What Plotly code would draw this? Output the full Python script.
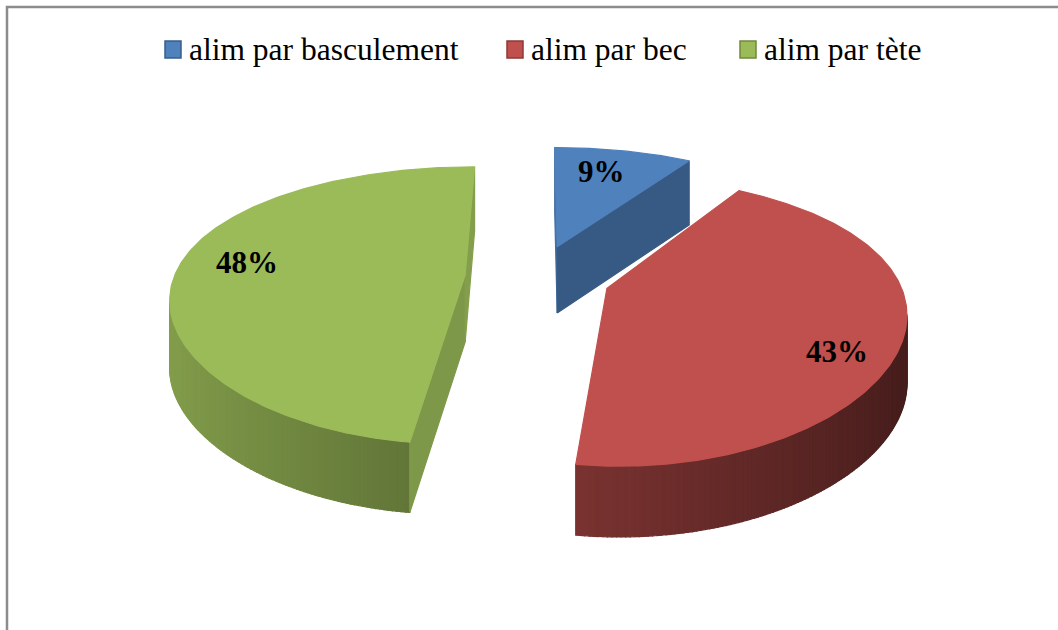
import numpy as np
import plotly.graph_objects as go

# ---- data ----
labels = ["alim par basculement", "alim par bec", "alim par tète"]
values = [9, 43, 48]
pct_text = ["9%", "43%", "48%"]
colors = ["#4f81bd", "#c0504d", "#9bbb59"]
edge_colors = ["#385d8a", "#8c3836", "#71893f"]

# ---- view / geometry settings (pixel space of the 1058x630 page) ----
W, H = 1058, 630
CX, CY = 537.6, 277.0      # centre of the pie on screen
RX, RY = 291.0, 132.8      # projected radii of the top face
PERSP_X, PERSP_Y = 0.15, 0.22   # foreshortening toward the back
DEPTH = 67.0               # projected thickness of the disc
EXPLODE = 0.25             # explosion distance (fraction of radius)
STEP = 0.75                # angular resolution of the rim, degrees


def project(X, Y, Z):
    gx = 1.0 / (1.0 + PERSP_X * Y)
    gy = 1.0 / (1.0 + PERSP_Y * Y)
    return CX + RX * X * gx, CY - RY * Y * gy - DEPTH * Z * gy ** 0.2


def newell(pts):
    n = np.zeros(3)
    for i in range(len(pts)):
        a, b = np.array(pts[i]), np.array(pts[(i + 1) % len(pts)])
        n += np.array([(a[1] - b[1]) * (a[2] + b[2]),
                       (a[2] - b[2]) * (a[0] + b[0]),
                       (a[0] - b[0]) * (a[1] + b[1])])
    return n


def shade(hex_color, f):
    h = hex_color.lstrip("#")
    r, g, b = (int(h[i:i + 2], 16) for i in (0, 2, 4))
    r, g, b = (int(max(0, min(255, round(c * f)))) for c in (r, g, b))
    return f"rgb({r},{g},{b})"


def face_trace(pts3, outward, color):
    """Return a filled polygon trace if the face points toward the viewer."""
    if np.dot(newell(pts3), outward) < 0:
        pts3 = pts3[::-1]
    xs, ys = zip(*[project(*p) for p in pts3])
    area = 0.5 * sum(xs[i] * ys[(i + 1) % len(xs)] - xs[(i + 1) % len(xs)] * ys[i]
                     for i in range(len(xs)))
    if area >= 0:          # back-facing (screen y points down)
        return None
    return go.Scatter(x=list(xs) + [xs[0]], y=list(ys) + [ys[0]], mode="lines",
                      fill="toself", fillcolor=color,
                      line=dict(color=color, width=1.2),
                      hoverinfo="skip", showlegend=False)


fracs = np.array(values, dtype=float) / sum(values)
ends = np.cumsum(fracs) * 360.0
starts = ends - fracs * 360.0

traces = []
label_pos = []
for i in range(len(values)):
    ts, te = starts[i], ends[i]
    tm = np.radians((ts + te) / 2)
    ox, oy = EXPLODE * np.sin(tm), EXPLODE * np.cos(tm)
    n_seg = max(2, int(np.ceil((te - ts) / STEP)))
    th = np.radians(np.linspace(ts, te, n_seg + 1))
    rim = [(ox + np.sin(t), oy + np.cos(t)) for t in th]

    faces = []
    # rim wall, shaded strip by strip
    for k in range(n_seg):
        (x0, y0), (x1, y1) = rim[k], rim[k + 1]
        mid = 0.5 * (th[k] + th[k + 1])
        nx = np.sin(mid)
        f = float(np.clip(0.6 - 0.25 * nx, 0.37, 0.9))
        quad = [(x0, y0, 0), (x1, y1, 0), (x1, y1, -1), (x0, y0, -1)]
        faces.append((quad, np.array([np.sin(mid), np.cos(mid), 0]), shade(colors[i], f)))
    # radial cut faces
    for t, d in ((th[0], -np.pi / 2), (th[-1], np.pi / 2)):
        px, py = ox + np.sin(t), oy + np.cos(t)
        quad = [(ox, oy, 0), (px, py, 0), (px, py, -1), (ox, oy, -1)]
        normal = np.array([np.sin(t + d), np.cos(t + d), 0])
        f = 0.85 + 0.28 * normal[1]
        faces.append((quad, normal, shade(colors[i], f)))
    # top face
    top = [(ox, oy, 0)] + [(x, y, 0) for x, y in rim]
    faces.append((top, np.array([0, 0, 1.0]), colors[i]))

    for pts, nrm, col in faces:
        tr = face_trace(pts, nrm, col)
        if tr is not None:
            traces.append((oy, tr))

    lx, ly = project(ox + 0.75 * np.sin(tm), oy + 0.75 * np.cos(tm), 0)
    label_pos.append((lx, ly))

# paint back-to-front (slices further back first)
order = sorted(range(len(traces)), key=lambda k: -traces[k][0])
fig = go.Figure()
for k in order:
    fig.add_trace(traces[k][1])

serif = "Liberation Serif, Times New Roman, serif"

# percentage labels on the slices
label_shift = [(-7, 0), (11, -26), (-3, 6)]
for (lx, ly), txt, (dx, dy) in zip(label_pos, pct_text, label_shift):
    fig.add_annotation(x=lx, y=ly, text=f"<b>{txt}</b>", showarrow=False,
                       xshift=dx, yshift=dy,
                       font=dict(family=serif, size=31, color="black"))

# legend row: swatch + text for each category
legend_x = [165, 507, 740]
for lab, col, ec, lx in zip(labels, colors, edge_colors, legend_x):
    fig.add_shape(type="rect", xref="x", yref="y", x0=lx, x1=lx + 16, y0=41, y1=58,
                  fillcolor=col, line=dict(color=ec, width=1.5))
    fig.add_annotation(x=lx + 22, y=49, text=lab, showarrow=False,
                       xanchor="left", yanchor="middle",
                       font=dict(family=serif, size=31.5, color="black"))

# chart frame
fig.add_shape(type="rect", xref="x", yref="y", x0=7, y0=7, x1=W + 20, y1=H + 20,
              line=dict(color="#8c8c8c", width=2.5), layer="below")

fig.update_layout(
    width=W, height=H,
    margin=dict(l=0, r=0, t=0, b=0),
    paper_bgcolor="white", plot_bgcolor="white",
    xaxis=dict(range=[0, W], visible=False, fixedrange=True),
    yaxis=dict(range=[H, 0], visible=False, fixedrange=True),
    showlegend=False,
)

fig.write_html("out.html")
